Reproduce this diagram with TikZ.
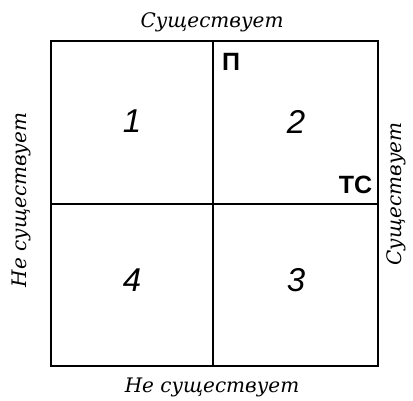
\documentclass[tikz,border=0pt]{standalone}
\usepackage{fontspec}
\setmainfont{Liberation Serif}
\setsansfont{Liberation Sans}
\newfontfamily\labelfont{DejaVu Serif}
\usetikzlibrary{positioning}

\begin{document}
\begin{tikzpicture}[
  x=1pt, y=-1pt,
  frame/.style={black,line width=2pt},
  axislabel/.style={font=\labelfont\fontsize{20}{24}\selectfont\itshape,inner sep=0pt},
  quadnum/.style={font=\fontsize{33}{38}\sffamily\itshape,inner sep=0pt},
  tag/.style={font=\fontsize{25}{30}\sffamily\bfseries,inner sep=0pt},
]
\useasboundingbox (0,0) rectangle (413,400);

% ===================================================================
% Frame and quadrants
% ===================================================================
\coordinate (nw) at (50.5,41);
\coordinate (se) at (377.5,365.5);
\coordinate (mid) at (213,204);
\draw[frame] (nw) rectangle (se);
\draw[frame] (mid |- nw) -- (mid |- se);
\draw[frame] (mid -| nw) -- (mid -| se);

% ===================================================================
% Quadrant numbers
% ===================================================================
\node[quadnum] (q1) at (132,121) {1};
\node[quadnum] (q2) at (296,122) {2};
\node[quadnum] (q3) at (296,280) {3};
\node[quadnum] (q4) at (132,280) {4};

% Corner tags
\node[tag] (p) at (231,62) {П};
\node[tag] (ts) at (355.5,185) {ТС};

% ===================================================================
% Axis labels
% ===================================================================
\node[axislabel] (top) at (212,22) {Существует};
\node[axislabel] (bottom) at (212,387) {Не существует};
\node[axislabel,rotate=90] (left) at (21,200) {Не существует};
\node[axislabel,rotate=90] (right) at (396,194) {Существует};

\end{tikzpicture}
\end{document}
